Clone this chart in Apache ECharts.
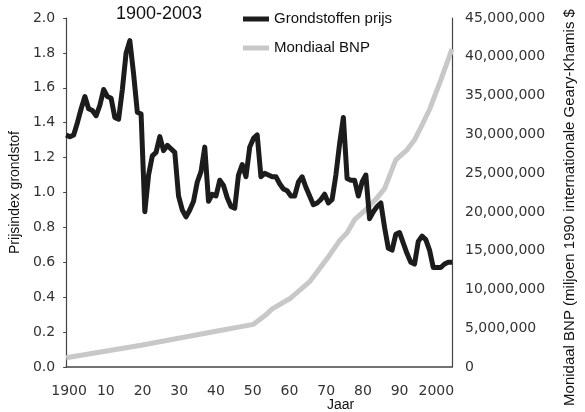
<!DOCTYPE html>
<html>
<head>
<meta charset="utf-8">
<script src="https://cdn.jsdelivr.net/npm/echarts@6/dist/echarts.min.js"></script>
<style>
  html, body { margin: 0; padding: 0; background: #fff; }
  #chart { width: 585px; height: 412px; }
</style>
</head>
<body>
<div id="chart"></div>
<script>
// grondstoffen prijsindex, jaarlijks 1900-2003
var jaren = [];
for (var j = 1900; j <= 2003; j++) jaren.push(j);
var prijs = [
  1.33, 1.32, 1.33, 1.40, 1.48, 1.55, 1.48, 1.47, 1.44, 1.50,
  1.59, 1.55, 1.54, 1.43, 1.42, 1.59, 1.80, 1.87, 1.68, 1.46,
  1.45, 0.89, 1.10, 1.21, 1.23, 1.32, 1.24, 1.27, 1.25, 1.23,
  0.98, 0.90, 0.86, 0.90, 0.95, 1.06, 1.12, 1.26, 0.95, 0.99,
  0.98, 1.07, 1.04, 0.97, 0.92, 0.91, 1.10, 1.16, 1.09, 1.26,
  1.31, 1.33, 1.09, 1.11, 1.10, 1.09, 1.09, 1.05, 1.02, 1.01,
  0.98, 0.98, 1.06, 1.09, 1.03, 0.98, 0.93, 0.94, 0.96, 0.99,
  0.94, 0.96, 1.10, 1.28, 1.43, 1.08, 1.07, 1.07, 0.98, 1.06,
  1.10, 0.85, 0.89, 0.92, 0.94, 0.80, 0.68, 0.67, 0.76, 0.77,
  0.71, 0.65, 0.60, 0.59, 0.72, 0.75, 0.73, 0.67, 0.57, 0.57,
  0.57, 0.59, 0.60, 0.60
];

// mondiaal BNP (miljoen 1990 GK$)
var bnpJaren = [1900, 1910, 1920, 1930, 1940, 1950, 1953, 1955, 1960, 1965,
  1970, 1973, 1975, 1977, 1980, 1983, 1985, 1988, 1991, 1993, 1995, 1997, 2000, 2003];
var bnp = [1200000, 2000000, 2800000, 3700000, 4600000, 5500000, 6600000, 7500000, 8900000, 11000000,
  14200000, 16300000, 17300000, 19000000, 20300000, 21800000, 23000000, 26700000, 28000000, 29300000,
  31200000, 33200000, 37000000, 41000000];

var labelJaren = [1900, 1910, 1920, 1930, 1940, 1950, 1960, 1970, 1980, 1990, 2000];

var prijsData = jaren.map(function (y, i) { return [y, prijs[i]]; });
var bnpData = bnpJaren.map(function (y, i) { return [y, bnp[i]]; });

var chart = echarts.init(document.getElementById('chart'));
var labelFont = 'DejaVu Sans';
var textFont = 'Liberation Sans';

chart.setOption({
  animation: false,
  backgroundColor: '#fff',
  title: [
    { text: '1900-2003', left: 111, top: 0,
      textStyle: { fontFamily: textFont, fontSize: 18, fontWeight: 'normal', color: '#111' } },
    { text: 'Jaar', left: 327, top: 398, padding: 0,
      textStyle: { fontFamily: textFont, fontSize: 14, fontWeight: 'normal', color: '#111' } }
  ],
  legend: {
    orient: 'vertical',
    left: 238, top: 6,
    itemWidth: 26, itemHeight: 5, itemGap: 13,
    icon: 'rect',
    textStyle: { fontFamily: textFont, fontSize: 15, color: '#111', lineHeight: 16 },
    data: ['Grondstoffen prijs', 'Mondiaal BNP']
  },
  grid: { left: 65, right: 126, top: 18, bottom: 45 },
  xAxis: [
    {
      type: 'value', min: 1900, max: 2003,
      axisLine: { lineStyle: { color: '#444', width: 1.5 } },
      axisTick: { show: false },
      axisLabel: { show: false },
      splitLine: { show: false }
    },
    {
      type: 'value', min: 1899.2, max: 2004.27, position: 'bottom',
      axisLine: { show: false },
      axisTick: { show: false },
      splitLine: { show: false },
      axisLabel: {
        customValues: labelJaren,
        margin: 17,
        fontFamily: labelFont, fontSize: 14, color: '#333',
        formatter: function (v) { return (v === 1900 || v === 2000) ? String(v) : String(v % 100); }
      }
    }
  ],
  yAxis: [
    {
      type: 'value', min: 0, max: 2, interval: 0.2,
      name: 'Prijsindex grondstof', nameLocation: 'middle', nameRotate: 90, nameGap: 43,
      nameTextStyle: { fontFamily: textFont, fontSize: 14, color: '#111' },
      axisLine: { show: true, lineStyle: { color: '#444', width: 1.2 } },
      axisTick: { show: true, length: 3, lineStyle: { color: '#444' } },
      axisLabel: { margin: 11, fontFamily: labelFont, fontSize: 14, color: '#333',
        formatter: function (v) { return v.toFixed(1); } },
      splitLine: { show: false }
    },
    {
      type: 'value', min: 0, max: 45000000, interval: 5000000, position: 'right',
      name: 'Monidaal BNP (miljoen 1990 internationale Geary-Khamis $',
      nameLocation: 'middle', nameRotate: 90, nameGap: 110,
      nameTextStyle: { fontFamily: textFont, fontSize: 15, color: '#111', padding: [0, 30, 0, 0] },
      axisLine: { show: true, lineStyle: { color: '#444', width: 1.2 } },
      axisTick: { show: false },
      axisLabel: { margin: 13, fontFamily: labelFont, fontSize: 14, color: '#333',
        formatter: function (v) { return v.toLocaleString('en-US'); } },
      splitLine: { show: false }
    }
  ],
  series: [
    {
      name: 'Mondiaal BNP', type: 'line', xAxisIndex: 0, yAxisIndex: 1,
      data: bnpData, showSymbol: false, symbol: 'none', smooth: false,
      lineStyle: { color: '#c8c8c8', width: 5 }, itemStyle: { color: '#c8c8c8' }, z: 2
    },
    {
      name: 'Grondstoffen prijs', type: 'line', xAxisIndex: 0, yAxisIndex: 0,
      data: prijsData, showSymbol: false, symbol: 'none',
      lineStyle: { color: '#1c1c1c', width: 5, join: 'round' }, itemStyle: { color: '#1c1c1c' }, z: 3
    }
  ]
});
</script>
</body>
</html>
